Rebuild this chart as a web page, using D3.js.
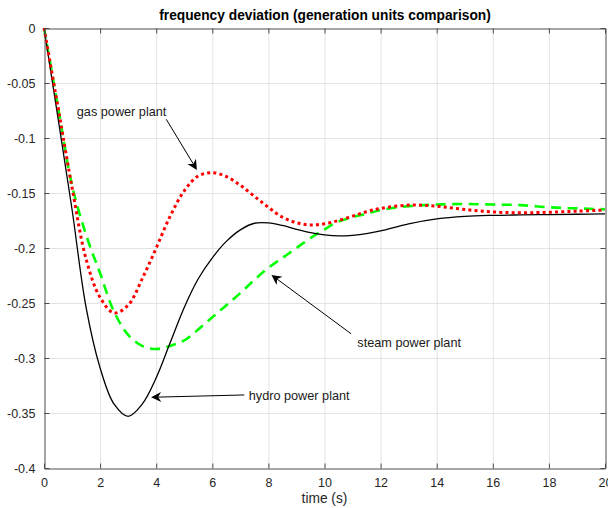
<!DOCTYPE html>
<html>
<head>
<meta charset="utf-8">
<script src="https://cdn.jsdelivr.net/npm/d3@7"></script>
<style>
  html, body { margin: 0; padding: 0; background: #fff; }
  svg { display: block; font-family: "Liberation Sans", Arial, Helvetica, sans-serif; }
</style>
</head>
<body>
<svg id="chart" width="608" height="508"></svg>
<script>
// ---- data ----
const time = [0, 0.5, 1, 1.5, 2, 2.5, 3, 3.5, 4, 4.5, 5, 5.5, 6, 6.5, 7, 7.5, 8, 8.5, 9, 9.5, 10, 10.5, 11, 11.5, 12, 13, 14, 15, 16, 17, 18, 19, 20];
const hydro = [0, -0.082, -0.165, -0.254, -0.309, -0.342, -0.353, -0.342, -0.318, -0.286, -0.254, -0.228, -0.209, -0.194, -0.1835, -0.1775, -0.1772, -0.1795, -0.183, -0.186, -0.188, -0.189, -0.1885, -0.187, -0.1845, -0.178, -0.1735, -0.1712, -0.1703, -0.1699, -0.1696, -0.1693, -0.169];
const gas = [0, -0.072, -0.145, -0.21, -0.245, -0.259, -0.252, -0.228, -0.2, -0.171, -0.148, -0.1345, -0.1315, -0.135, -0.143, -0.153, -0.163, -0.172, -0.177, -0.179, -0.178, -0.175, -0.171, -0.167, -0.164, -0.161, -0.162, -0.165, -0.1672, -0.168, -0.1675, -0.1665, -0.1655];
const steam = [0, -0.072, -0.143, -0.188, -0.223, -0.258, -0.279, -0.289, -0.2918, -0.289, -0.284, -0.274, -0.263, -0.252, -0.241, -0.229, -0.218, -0.209, -0.2, -0.191, -0.183, -0.176, -0.172, -0.169, -0.1655, -0.162, -0.1605, -0.160, -0.1605, -0.161, -0.163, -0.164, -0.1648];

const xTicks = [0, 2, 4, 6, 8, 10, 12, 14, 16, 18, 20];
const yTicks = [0, -0.05, -0.1, -0.15, -0.2, -0.25, -0.3, -0.35, -0.4];
const yTickLabels = ["0", "-0.05", "-0.1", "-0.15", "-0.2", "-0.25", "-0.3", "-0.35", "-0.4"];

const titleText = "frequency deviation (generation units comparison)";
const xLabel = "time (s)";

// annotations in data units: text anchor point, arrow tail, arrow tip
const annLabels = ["gas power plant", "steam power plant", "hydro power plant"];
const annText = [[1.17, -0.0761], [11.17, -0.2857], [7.30, -0.3345]];
const annTail = [[4.36, -0.083], [10.95, -0.278], [7.14, -0.3336]];
const annTip = [[5.45, -0.129], [8.11, -0.2245], [3.82, -0.3357]];

// ---- layout ----
const svg = d3.select("#chart");
const L = 44, T = 28, R = 605, B = 468;
const x = d3.scaleLinear().domain([0, 20]).range([L, R]);
const y = d3.scaleLinear().domain([-0.4, 0]).range([B, T]);

const axisColor = "#4d4d4d";
const textColor = "#262626";

// background
svg.append("rect").attr("x", L).attr("y", T).attr("width", R - L).attr("height", B - T).attr("fill", "#fff");

// grid
const grid = svg.append("g");
grid.selectAll("line.gx").data(xTicks.slice(1, -1)).join("line")
  .attr("x1", d => x(d) + 0.5).attr("x2", d => x(d) + 0.5)
  .attr("y1", T).attr("y2", B)
  .attr("stroke", "#e3e3e3").attr("stroke-width", 1);
grid.selectAll("line.gy").data(yTicks.slice(1, -1)).join("line")
  .attr("y1", d => Math.round(y(d)) + 0.5).attr("y2", d => Math.round(y(d)) + 0.5)
  .attr("x1", L).attr("x2", R)
  .attr("stroke", "#e3e3e3").attr("stroke-width", 1);

// axes using d3 axis generators (ticks inside)
const fmtY = d => yTickLabels[yTicks.indexOf(d)];
const xAxisB = d3.axisBottom(x).tickValues(xTicks).tickSizeInner(-5).tickSizeOuter(0).tickPadding(10).tickFormat(d3.format("d"));
const xAxisT = d3.axisTop(x).tickValues(xTicks).tickSizeInner(-5).tickSizeOuter(0).tickFormat("");
const yAxisL = d3.axisLeft(y).tickValues(yTicks).tickSizeInner(-5).tickSizeOuter(0).tickPadding(9).tickFormat(fmtY);
const yAxisR = d3.axisRight(y).tickValues(yTicks).tickSizeInner(-5).tickSizeOuter(0).tickFormat("");

function styleAxis(g) {
  g.select(".domain").attr("stroke", axisColor).attr("stroke-width", 1);
  g.selectAll(".tick line").attr("stroke", axisColor).attr("stroke-width", 1);
  g.selectAll(".tick text").attr("fill", textColor).attr("font-size", "12.5px")
    .attr("font-family", "'Liberation Sans', Arial, Helvetica, sans-serif");
}

// curves
const lineGen = vals => d3.line()
  .x((d, i) => x(time[i]))
  .y(d => y(d))
  .curve(d3.curveCatmullRom.alpha(0.5))(vals);

const plot = svg.append("g");
plot.append("path").attr("d", lineGen(steam))
  .attr("fill", "none").attr("stroke", "#00ff00").attr("stroke-width", 2.6)
  .attr("stroke-dasharray", "10,6.5");
plot.append("path").attr("d", lineGen(hydro))
  .attr("fill", "none").attr("stroke", "#000").attr("stroke-width", 1.3);
plot.append("path").attr("d", lineGen(gas))
  .attr("fill", "none").attr("stroke", "#ff0000").attr("stroke-width", 3)
  .attr("stroke-dasharray", "3,3.2");

// axes on top
svg.append("g").attr("transform", `translate(0,${B + 0.5})`).call(xAxisB).call(styleAxis);
svg.append("g").attr("transform", `translate(0,${T + 0.5})`).call(xAxisT).call(styleAxis);
svg.append("g").attr("transform", `translate(${L + 0.5},0)`).call(yAxisL).call(styleAxis);
svg.append("g").attr("transform", `translate(${R + 0.5},0)`).call(yAxisR).call(styleAxis);

// title & labels
svg.append("text").attr("x", 325).attr("y", 19.5).attr("text-anchor", "middle")
  .attr("font-size", "13.75px").attr("font-weight", "bold").attr("fill", "#000")
  .text(titleText);
svg.append("text").attr("x", x(10)).attr("y", 503).attr("text-anchor", "middle")
  .attr("font-size", "13.75px").attr("fill", textColor).text(xLabel);

// annotations
const ann = svg.append("g");
annLabels.forEach((lab, i) => {
  const [tx, ty] = annText[i];
  ann.append("text").attr("x", x(tx)).attr("y", y(ty)).attr("dy", "0.35em")
    .attr("font-size", "12.7px").attr("fill", "#1a1a1a").text(lab);
  const x1 = x(annTail[i][0]), y1 = y(annTail[i][1]);
  const x2 = x(annTip[i][0]), y2 = y(annTip[i][1]);
  const ang = Math.atan2(y2 - y1, x2 - x1);
  const len = 10, hw = 5, notch = 7;
  const ux = Math.cos(ang), uy = Math.sin(ang);
  const px = -uy, py = ux;
  ann.append("line").attr("x1", x1).attr("y1", y1)
    .attr("x2", x2 - ux * notch).attr("y2", y2 - uy * notch)
    .attr("stroke", "#000").attr("stroke-width", 1);
  const pts = [
    [x2, y2],
    [x2 - ux * len + px * hw, y2 - uy * len + py * hw],
    [x2 - ux * notch, y2 - uy * notch],
    [x2 - ux * len - px * hw, y2 - uy * len - py * hw]
  ];
  ann.append("path").attr("d", "M" + pts.map(p => p.join(",")).join("L") + "Z").attr("fill", "#000");
});
</script>
</body>
</html>
